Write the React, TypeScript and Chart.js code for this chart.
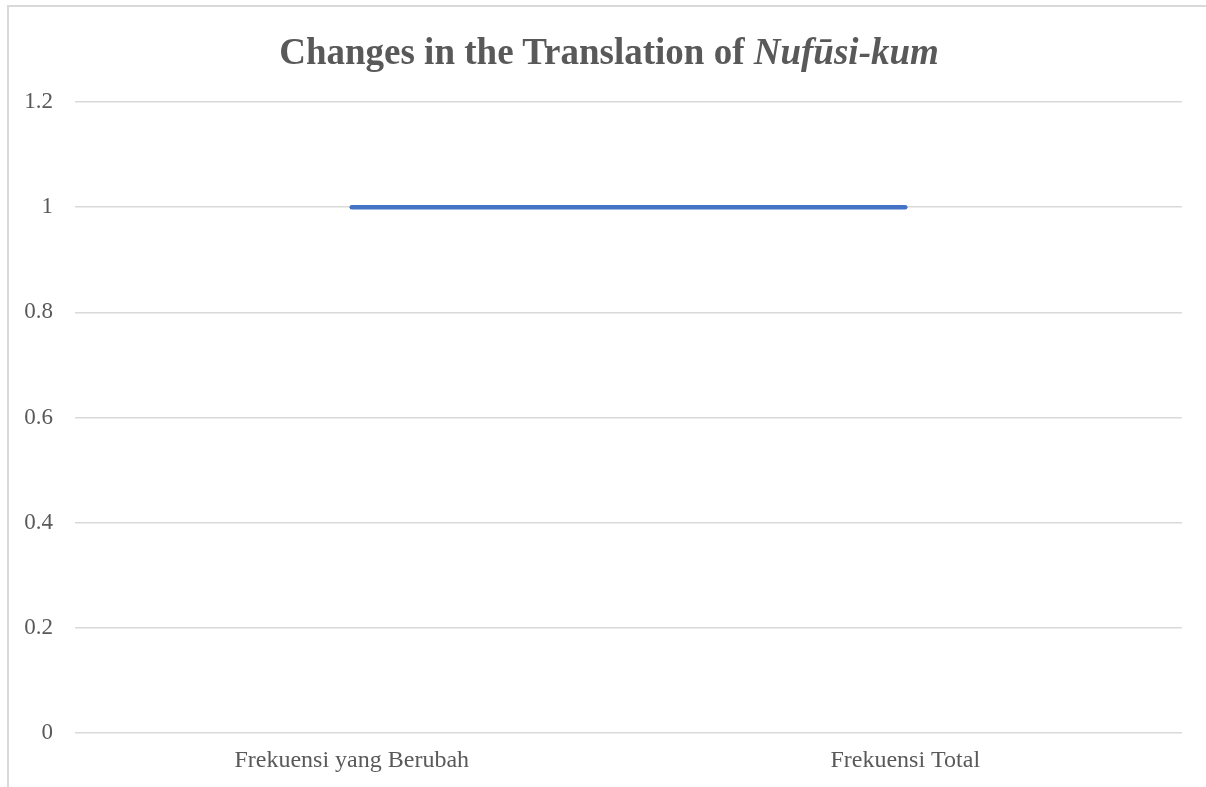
import React, { useEffect, useRef } from "react";
import { Chart, registerables } from "chart.js";

Chart.register(...registerables);

const categories: string[] = ["Frekuensi yang Berubah", "Frekuensi Total"];
const seriesValues: number[] = [1, 1];
const seriesName = "Nufūsi-kum";
const yTickMin = 0;
const yTickMax = 1.2;
const yTickStep = 0.2;

const W = 1206;
const H = 787;

export default function App() {
  const canvasRef = useRef<HTMLCanvasElement | null>(null);

  useEffect(() => {
    document.body.style.margin = "0";
    const canvas = canvasRef.current;
    if (!canvas) return;
    const chart = new Chart(canvas, {
      type: "line",
      data: {
        labels: categories,
        datasets: [
          {
            label: seriesName,
            data: seriesValues,
            borderColor: "#4472C4",
            backgroundColor: "#4472C4",
            borderWidth: 4.5,
            borderCapStyle: "round",
            pointRadius: 0,
            pointHoverRadius: 0,
            tension: 0,
          },
        ],
      },
      options: {
        animation: false,
        responsive: false,
        maintainAspectRatio: false,
        layout: { padding: { left: 0, right: 24, top: 102, bottom: 0 } },
        plugins: {
          legend: { display: false },
          title: { display: false },
          tooltip: { enabled: false },
        },
        scales: {
          x: {
            type: "category",
            offset: true,
            grid: { display: false, drawTicks: false },
            border: { display: false },
            ticks: {
              color: "#595959",
              padding: 13,
              maxRotation: 0,
              autoSkip: false,
              font: { family: "'Liberation Serif', 'Times New Roman', serif", size: 24 },
            },
            afterFit: (scale: any) => {
              scale.height = 54;
            },
          },
          y: {
            min: yTickMin,
            max: yTickMax,
            grid: { color: "#d9d9d9", lineWidth: 1.5, drawTicks: false },
            border: { display: false },
            ticks: {
              stepSize: yTickStep,
              color: "#595959",
              padding: 22,
              font: { family: "'Liberation Serif', 'Times New Roman', serif", size: 23 },
              callback: (v: any) => String(Math.round(Number(v) * 10) / 10),
            },
            afterFit: (scale: any) => {
              scale.width = 75;
            },
          },
        },
      },
    });
    return () => chart.destroy();
  }, []);

  return (
    <div style={{ position: "relative", width: W, height: H, overflow: "hidden", background: "#fff" }}>
      <div
        style={{
          position: "absolute",
          left: 7,
          top: 5,
          width: W,
          height: H,
          borderTop: "2px solid #d9d9d9",
          borderLeft: "2px solid #d9d9d9",
          boxSizing: "border-box",
        }}
      />
      <canvas ref={canvasRef} width={W} height={H} style={{ position: "absolute", left: 0, top: 0, width: W, height: H }} />
      <div
        style={{
          position: "absolute",
          left: 6,
          top: 30,
          width: W,
          textAlign: "center",
          fontFamily: "'Liberation Serif', 'Times New Roman', serif",
          fontWeight: "bold",
          fontSize: 37,
          lineHeight: "44px",
          color: "#595959",
          whiteSpace: "nowrap",
        }}
      >
        Changes in the Translation of <i>Nufūsi-kum</i>
      </div>
    </div>
  );
}
